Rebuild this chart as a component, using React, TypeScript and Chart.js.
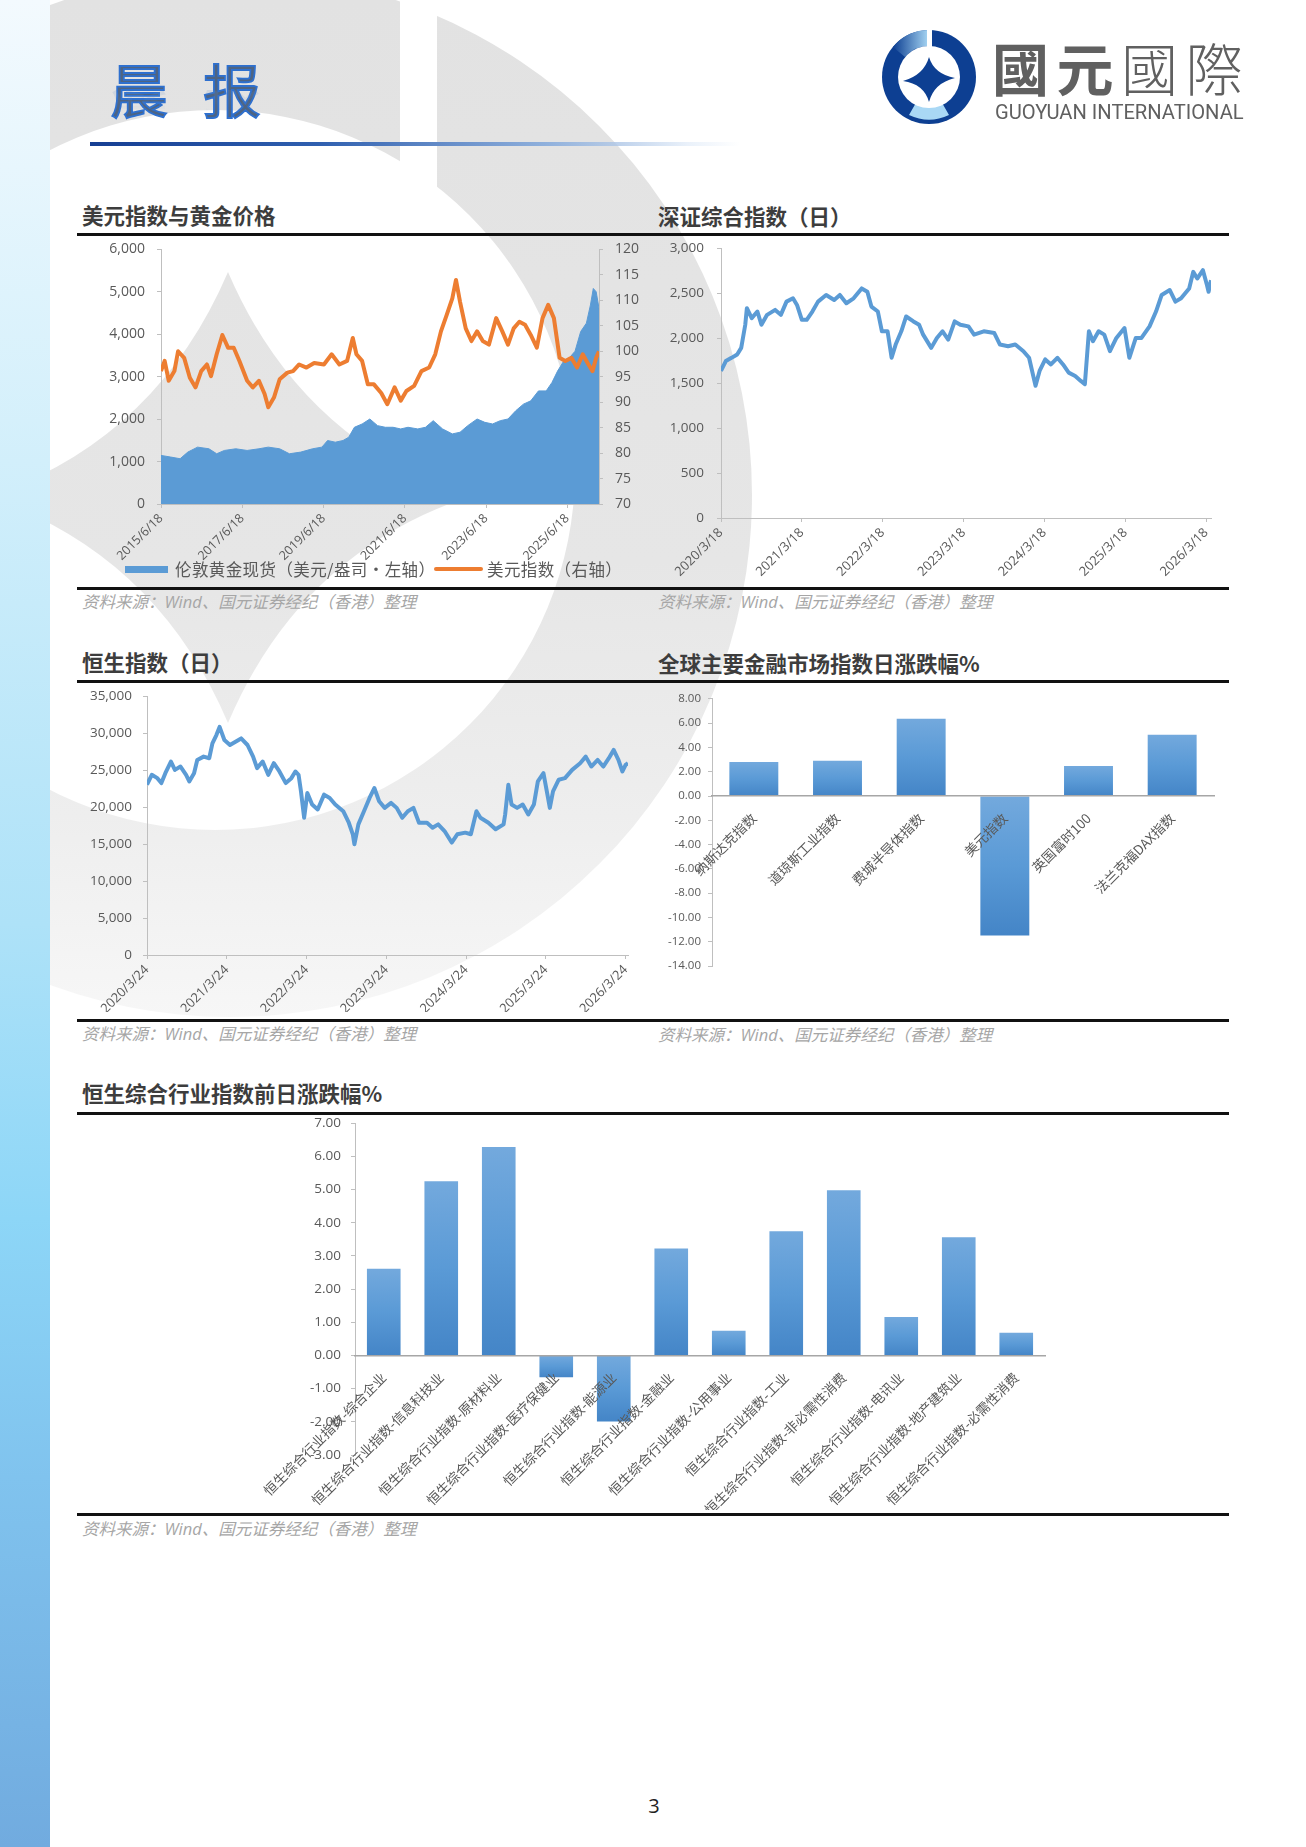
import React, { useEffect, useRef } from "react";
import { Chart, registerables } from "chart.js";
Chart.register(...registerables);

const NUM_FONT = '"Open Sans", "Noto Sans CJK SC", sans-serif';
const CJK_FONT = '"Noto Sans CJK SC", "Open Sans", sans-serif';
const AXIS = "#bfbfbf";
const TICK = "#595959";

// ---------- 美元指数与黄金价格 ----------
const goldTime = [2015.46,2015.70,2015.93,2016.12,2016.36,2016.64,2016.83,2017.02,2017.30,2017.58,2017.87,2018.10,2018.38,2018.62,2018.90,2019.19,2019.42,2019.56,2019.75,2019.94,2020.08,2020.22,2020.41,2020.60,2020.79,2020.98,2021.17,2021.36,2021.54,2021.78,2021.97,2022.16,2022.39,2022.63,2022.82,2023.01,2023.24,2023.43,2023.62,2023.81,2024.00,2024.19,2024.38,2024.56,2024.75,2024.94,2025.08,2025.22,2025.37,2025.51,2025.65,2025.79,2025.93,2026.03,2026.10,2026.17,2026.24];
const goldPrice = [1145,1106,1067,1223,1340,1301,1184,1262,1301,1262,1301,1340,1301,1184,1223,1301,1340,1496,1457,1496,1574,1808,1886,2003,1847,1808,1808,1769,1808,1769,1808,1964,1769,1652,1691,1847,2003,1925,1886,1964,2003,2197,2353,2431,2665,2665,2860,3132,3366,3444,3600,4065,4262,4691,5080,5002,4613];
const dxyTime = [2015.46,2015.55,2015.65,2015.79,2015.88,2016.03,2016.17,2016.31,2016.45,2016.59,2016.69,2016.83,2016.97,2017.11,2017.25,2017.39,2017.58,2017.72,2017.87,2018.01,2018.10,2018.24,2018.38,2018.57,2018.71,2018.86,2019.04,2019.23,2019.47,2019.66,2019.85,2020.04,2020.18,2020.27,2020.41,2020.55,2020.70,2020.88,2021.03,2021.21,2021.36,2021.50,2021.69,2021.87,2022.06,2022.21,2022.35,2022.49,2022.63,2022.72,2022.82,2022.96,2023.10,2023.24,2023.38,2023.53,2023.71,2023.86,2024.00,2024.14,2024.28,2024.42,2024.56,2024.71,2024.85,2024.99,2025.13,2025.27,2025.41,2025.56,2025.70,2025.84,2025.98,2026.08,2026.17,2026.24];
const dxyValue = [96.1,98.1,94.2,96.1,100.0,98.7,94.8,92.9,96.1,97.4,95.1,99.4,103.2,100.7,100.7,98.1,94.2,92.9,94.2,91.6,89.0,90.9,94.5,95.8,96.1,97.4,96.8,97.7,97.4,99.4,97.4,98.1,102.6,99.4,98.1,93.5,93.5,91.8,89.6,92.9,90.3,92.2,93.2,96.1,96.8,99.4,103.9,107.1,110.4,114.0,109.7,104.5,102.0,103.9,102.0,101.3,106.5,103.9,101.3,104.5,105.8,105.2,103.2,100.7,106.5,109.1,106.5,98.7,98.1,98.7,96.8,99.4,97.4,96.1,98.7,100.0];
const goldTickPos = [2015.46,2017.46,2019.46,2021.46,2023.46,2025.46];
const goldTickLabels = ["2015/6/18","2017/6/18","2019/6/18","2021/6/18","2023/6/18","2025/6/18"];

// ---------- 深证综合指数 ----------
const szTime = [2020.21,2020.27,2020.34,2020.41,2020.46,2020.51,2020.53,2020.59,2020.66,2020.71,2020.78,2020.88,2020.95,2021.02,2021.10,2021.15,2021.21,2021.27,2021.34,2021.41,2021.51,2021.61,2021.68,2021.76,2021.85,2021.95,2022.02,2022.07,2022.15,2022.20,2022.27,2022.32,2022.37,2022.44,2022.50,2022.59,2022.66,2022.71,2022.81,2022.88,2022.95,2023.02,2023.10,2023.17,2023.27,2023.34,2023.46,2023.59,2023.66,2023.76,2023.85,2023.95,2024.02,2024.10,2024.15,2024.22,2024.29,2024.37,2024.44,2024.51,2024.59,2024.66,2024.71,2024.76,2024.81,2024.88,2024.95,2025.02,2025.10,2025.20,2025.26,2025.34,2025.41,2025.51,2025.59,2025.66,2025.76,2025.83,2025.90,2026.00,2026.05,2026.10,2026.17,2026.22,2026.24,2026.27];
const szValue = [1634,1744,1780,1818,1891,2148,2332,2222,2295,2148,2258,2313,2258,2405,2442,2368,2203,2203,2295,2405,2479,2423,2479,2387,2442,2552,2515,2350,2295,2075,2075,1781,1928,2075,2240,2185,2148,2038,1891,2001,2075,1983,2185,2148,2130,2038,2075,2056,1928,1909,1928,1854,1781,1469,1634,1763,1707,1781,1707,1616,1579,1524,1487,2075,1965,2075,2038,1854,2001,2111,1781,2001,2001,2130,2295,2479,2534,2405,2442,2552,2736,2662,2754,2589,2515,2644];
const szTickPos = [2020.21,2021.21,2022.21,2023.21,2024.21,2025.21,2026.21];
const szTickLabels = ["2020/3/18","2021/3/18","2022/3/18","2023/3/18","2024/3/18","2025/3/18","2026/3/18"];

// ---------- 恒生指数 ----------
const hsiTime = [2020.23,2020.29,2020.36,2020.41,2020.46,2020.53,2020.58,2020.65,2020.72,2020.76,2020.82,2020.86,2020.94,2021.01,2021.05,2021.10,2021.14,2021.20,2021.27,2021.34,2021.41,2021.49,2021.56,2021.61,2021.68,2021.75,2021.82,2021.89,2021.97,2022.04,2022.09,2022.13,2022.16,2022.20,2022.24,2022.30,2022.37,2022.45,2022.52,2022.59,2022.69,2022.76,2022.81,2022.83,2022.88,2022.95,2023.02,2023.08,2023.14,2023.21,2023.29,2023.36,2023.43,2023.50,2023.57,2023.64,2023.74,2023.81,2023.88,2023.96,2024.05,2024.12,2024.22,2024.29,2024.36,2024.41,2024.51,2024.60,2024.70,2024.72,2024.76,2024.80,2024.87,2024.94,2025.01,2025.08,2025.13,2025.20,2025.25,2025.28,2025.32,2025.39,2025.47,2025.56,2025.66,2025.73,2025.80,2025.88,2025.95,2026.02,2026.08,2026.14,2026.19,2026.23,2026.26];
const hsiValue = [23020,24360,23910,23240,24580,26150,25030,25480,24360,23470,24580,26370,26820,26600,28610,29730,30840,29060,28390,28830,29280,28390,26820,25260,26150,24360,25930,24810,23240,23910,24810,24360,22130,18550,21900,20340,19670,21680,21230,20340,19440,17880,16320,14970,17660,19440,21230,22570,20790,19890,20560,19890,18550,19440,19890,17880,17880,17210,17660,16760,15200,16320,16540,16320,19440,18550,17880,16990,17660,19000,23020,20340,19890,20340,19000,20340,23470,24580,21680,19890,22130,23690,23910,25030,25930,26820,25480,26370,25480,26600,27720,26370,24810,25700,25930];
const hsiTickPos = [2020.23,2021.23,2022.23,2023.23,2024.23,2025.23,2026.23];
const hsiTickLabels = ["2020/3/24","2021/3/24","2022/3/24","2023/3/24","2024/3/24","2025/3/24","2026/3/24"];

// ---------- 全球主要金融市场指数日涨跌幅% ----------
const globalNames = ["纳斯达克指数","道琼斯工业指数","费城半导体指数","美元指数","英国富时100","法兰克福DAX指数"];
const globalChange = [2.81, 2.90, 6.37, -11.48, 2.48, 5.05];

// ---------- 恒生综合行业指数前日涨跌幅% ----------
const sectorNames = ["恒生综合行业指数-综合企业","恒生综合行业指数-信息科技业","恒生综合行业指数-原材料业","恒生综合行业指数-医疗保健业","恒生综合行业指数-能源业","恒生综合行业指数-金融业","恒生综合行业指数-公用事业","恒生综合行业指数-工业","恒生综合行业指数-非必需性消费","恒生综合行业指数-电讯业","恒生综合行业指数-地产建筑业","恒生综合行业指数-必需性消费"];
const sectorChange = [2.61, 5.25, 6.28, -0.66, -1.99, 3.22, 0.74, 3.74, 4.98, 1.16, 3.56, 0.68];

const SOURCE = "资料来源：Wind、国元证券经纪（香港）整理";

const xy = (xs: number[], ys: number[]) => xs.map((x, i) => ({ x, y: ys[i] }));
const fmtThousands = (v: any) => Number(v).toLocaleString("en-US");
const fmt2 = (v: any) => Number(v).toFixed(2);

function yScale(o: { min: number; max: number; step: number; width: number; size: number; pad: number; fmt: (v: any) => string; position?: string; }) {
  return {
    type: "linear",
    position: o.position || "left",
    min: o.min,
    max: o.max,
    ticks: { stepSize: o.step, font: { family: NUM_FONT, size: o.size }, color: TICK, padding: o.pad, callback: o.fmt },
    grid: { display: true, drawOnChartArea: false, drawTicks: true, tickLength: 4, color: AXIS },
    border: { display: true, color: AXIS },
    afterFit: (s: any) => { s.width = o.width; },
  };
}

function timeX(o: { min: number; max: number; pos: number[]; labels: string[]; height: number; size: number }) {
  return {
    type: "linear",
    min: o.min,
    max: o.max,
    afterBuildTicks: (s: any) => { s.ticks = o.pos.map((v) => ({ value: v })); },
    ticks: {
      callback: (_v: any, i: number) => o.labels[i],
      minRotation: 45, maxRotation: 45, autoSkip: false,
      font: { family: NUM_FONT, size: o.size }, color: TICK, padding: 3,
    },
    grid: { display: true, drawOnChartArea: false, drawTicks: true, tickLength: 4, color: AXIS },
    border: { display: true, color: AXIS },
    afterFit: (s: any) => { s.height = o.height; },
  };
}

function barGradient(ctx: any) {
  const chart = ctx.chart;
  const y = chart.scales && chart.scales.y;
  if (ctx.type !== "data" || !y) return "#5b9bd5";
  const v = ctx.raw as number;
  const p0 = y.getPixelForValue(0);
  const p1 = y.getPixelForValue(v);
  const top = Math.min(p0, p1), bot = Math.max(p0, p1);
  if (!isFinite(top) || !isFinite(bot) || bot - top < 1) return "#5b9bd5";
  const g = chart.ctx.createLinearGradient(0, top, 0, bot);
  g.addColorStop(0, "#73a9dd");
  g.addColorStop(0.5, "#5a9ad6");
  g.addColorStop(1, "#4485c7");
  return g;
}

const baseOpts = (padding: any) => ({
  responsive: true,
  maintainAspectRatio: false,
  animation: false,
  layout: { padding },
  plugins: { legend: { display: false }, tooltip: { enabled: false } },
});

function goldConfig(): any {
  return {
    type: "line",
    data: {
      datasets: [
        { label: "美元指数（右轴）", data: xy(dxyTime, dxyValue), yAxisID: "y1", borderColor: "#ed7d31", borderWidth: 4, pointRadius: 0, fill: false, order: 0, borderJoinStyle: "round" },
        { label: "伦敦黄金现货（美元/盎司，左轴）", data: xy(goldTime, goldPrice), yAxisID: "y", borderColor: "#5b9bd5", backgroundColor: "#5b9bd5", borderWidth: 1, pointRadius: 0, fill: "origin", order: 1 },
      ],
    },
    options: {
      ...baseOpts({ top: 0, left: 0, right: 0, bottom: 0 }),
      scales: {
        x: timeX({ min: 2015.46, max: 2026.24, pos: goldTickPos, labels: goldTickLabels, height: 61, size: 12.5 }),
        y: yScale({ min: 0, max: 6000, step: 1000, width: 84, size: 14, pad: 12, fmt: fmtThousands }),
        y1: yScale({ min: 70, max: 120, step: 5, width: 61, size: 14, pad: 12, fmt: (v) => String(v), position: "right" }),
      },
    },
  };
}

function szConfig(): any {
  return {
    type: "line",
    data: { datasets: [{ label: "深证综合指数", data: xy(szTime, szValue), borderColor: "#5b9bd5", borderWidth: 4, pointRadius: 0, fill: false, borderJoinStyle: "round" }] },
    options: {
      ...baseOpts({ top: 0, left: 0, right: 18, bottom: 0 }),
      scales: {
        x: timeX({ min: 2020.21, max: 2026.27, pos: szTickPos, labels: szTickLabels, height: 62, size: 13 }),
        y: yScale({ min: 0, max: 3000, step: 500, width: 66, size: 13.5, pad: 13, fmt: fmtThousands }),
      },
    },
  };
}

function hsiConfig(): any {
  return {
    type: "line",
    data: { datasets: [{ label: "恒生指数", data: xy(hsiTime, hsiValue), borderColor: "#5b9bd5", borderWidth: 4, pointRadius: 0, fill: false, borderJoinStyle: "round" }] },
    options: {
      ...baseOpts({ top: 0, left: 0, right: 22, bottom: 0 }),
      scales: {
        x: timeX({ min: 2020.23, max: 2026.26, pos: hsiTickPos, labels: hsiTickLabels, height: 57, size: 13 }),
        y: yScale({ min: 0, max: 35000, step: 5000, width: 70, size: 13.5, pad: 11, fmt: fmtThousands }),
      },
    },
  };
}

function barConfig(names: string[], values: number[], o: { min: number; max: number; step: number; width: number; ySize: number; yPad: number; padding: any; barPct: number }): any {
  return {
    type: "bar",
    data: { labels: names, datasets: [{ label: "涨跌幅", data: values, backgroundColor: barGradient, borderWidth: 0, barPercentage: o.barPct, categoryPercentage: 1.0 }] },
    options: {
      ...baseOpts(o.padding),
      scales: {
        x: {
          type: "category",
          position: { y: 0 },
          ticks: { z: 1, font: { family: CJK_FONT, size: 13.5 }, color: TICK, minRotation: 45, maxRotation: 45, autoSkip: false, padding: 6 },
          grid: { display: false },
          border: { display: true, color: "#a6a6a6", width: 1.5, z: 1 },
        },
        y: yScale({ min: o.min, max: o.max, step: o.step, width: o.width, size: o.ySize, pad: o.yPad, fmt: fmt2 }),
      },
    },
  };
}

function ChartBox(props: { left: number; top: number; width: number; height: number; config: () => any }) {
  const ref = useRef<HTMLCanvasElement | null>(null);
  useEffect(() => {
    const chart = new Chart(ref.current as HTMLCanvasElement, props.config());
    return () => chart.destroy();
  }, []);
  return (
    <div style={{ position: "absolute", left: props.left, top: props.top, width: props.width, height: props.height }}>
      <canvas ref={ref} />
    </div>
  );
}

const abs = (s: any): any => ({ position: "absolute", whiteSpace: "nowrap", ...s });

function Title(p: { x: number; cy: number; text: string }) {
  return <div style={abs({ left: p.x, top: p.cy - 14, height: 28, lineHeight: "28px", fontSize: 21.5, fontFamily: CJK_FONT, fontWeight: 700, color: "#3d3d3d" })}>{p.text}</div>;
}
function Rule(p: { y: number }) {
  return <div style={abs({ left: 77, top: p.y, width: 1152, height: 2.5, background: "#111" })} />;
}
function Source(p: { x: number; cy: number }) {
  return <div style={abs({ left: p.x, top: p.cy - 12, height: 24, lineHeight: "24px", fontSize: 16.5, fontFamily: NUM_FONT, fontStyle: "italic", color: "#a6a6a6" })}>{SOURCE}</div>;
}

function Watermark() {
  return (
    <svg width={1306} height={1847} style={{ position: "absolute", left: 0, top: 0 }}>
      <defs>
        <linearGradient id="wmg" gradientUnits="userSpaceOnUse" x1="0" y1="0" x2="0" y2="1020">
          <stop offset="0" stopColor="#e2e2e2" />
          <stop offset="0.55" stopColor="#e6e6e6" />
          <stop offset="0.8" stopColor="#eeeeee" />
          <stop offset="1" stopColor="#f7f7f7" />
        </linearGradient>
      </defs>
      <path fillRule="evenodd" fill="url(#wmg)" d="M -292 495 A 522 522 0 1 0 752 495 A 522 522 0 1 0 -292 495 Z M -145 470 A 360 360 0 1 0 575 470 A 360 360 0 1 0 -145 470 Z" />
      <rect x={400} y={0} width={37} height={200} fill="#ffffff" />
      <path fill="url(#wmg)" d="M228 272 Q300 440 468 497 Q300 554 228 723 Q156 554 -12 497 Q156 440 228 272 Z" />
    </svg>
  );
}

function Logo() {
  return (
    <svg width={100} height={100} viewBox="0 0 100 100" style={{ position: "absolute", left: 879, top: 27 }}>
      <defs>
        <linearGradient id="lgA" x1="0" y1="0" x2="1" y2="0">
          <stop offset="0" stopColor="#0d3f92" />
          <stop offset="1" stopColor="#a9d8f5" />
        </linearGradient>
      </defs>
      <circle cx={50} cy={50} r={47} fill="#0d3f92" />
      <path d="M 50 3 A 47 47 0 0 0 14 20 L 26 30 A 31 31 0 0 1 50 19 Z" fill="url(#lgA)" />
      <path d="M 30 88 A 47 47 0 0 0 70 88 L 62 74 A 31 31 0 0 1 38 74 Z" fill="#a9d8f5" />
      <circle cx={50} cy={50} r={31} fill="#ffffff" />
      <rect x={48} y={0} width={5} height={22} fill="#ffffff" />
      <path d="M50 30 Q55 47 76 51 Q55 56 50 75 Q45 57 24 54 Q45 48 50 30 Z" fill="#0d3f92" />
    </svg>
  );
}

const headStyle = { left: 110, top: 53, fontSize: 58, lineHeight: "70px", fontWeight: 400, fontFamily: CJK_FONT, letterSpacing: 11 };

export default function App() {
  useEffect(() => { document.body.style.margin = "0"; }, []);
  return (
    <div style={{ position: "relative", width: 1306, height: 1847, overflow: "hidden", background: "#fff", fontFamily: CJK_FONT }}>
      <style>{"body{margin:0}"}</style>
      <Watermark />
      <div style={abs({ left: 0, top: 0, width: 50, height: 1847, background: "linear-gradient(to bottom, #f3fafe 0%, #d2effb 25%, #aee2f8 50%, #8dd6f7 66%, #80c3ee 80%, #71abdf 100%)" })} />

      {/* header */}
      <div style={abs({ ...headStyle, color: "#4e6482", WebkitTextStroke: "1.8px #2e70cf" })}>晨 报</div>
      <div style={abs({ ...headStyle, top: 53 + 102, color: "#6a8fc4", transform: "scaleY(-1)", transformOrigin: "50% 0", opacity: 0.22, WebkitMaskImage: "linear-gradient(to top, rgba(0,0,0,1) 0%, rgba(0,0,0,0) 40%)", maskImage: "linear-gradient(to top, rgba(0,0,0,1) 0%, rgba(0,0,0,0) 40%)" })}>晨 报</div>
      <div style={abs({ left: 90, top: 142, width: 650, height: 3.5, background: "linear-gradient(to right, #163f93 0%, #2f5faf 35%, #8fb0dc 70%, rgba(220,232,247,0.6) 92%, rgba(255,255,255,0) 100%)" })} />

      <Logo />
      <div style={abs({ left: 992, top: 31, fontSize: 57, lineHeight: "70px", color: "#606060", letterSpacing: 7.5, fontFamily: CJK_FONT })}>
        <span style={{ fontWeight: 700 }}>國元</span><span style={{ fontWeight: 300 }}>國際</span>
      </div>
      <div style={abs({ left: 995, top: 100, fontSize: 21, lineHeight: "24px", color: "#606060", fontFamily: '"Roboto", "Open Sans", sans-serif', transform: "scaleX(0.96)", transformOrigin: "0 0" })}>GUOYUAN INTERNATIONAL</div>

      {/* chart 1 & 2 */}
      <Title x={82} cy={215} text="美元指数与黄金价格" />
      <Title x={658} cy={216} text="深证综合指数（日）" />
      <Rule y={233} />
      <ChartBox left={77} top={229} width={583} height={336} config={goldConfig} />
      <ChartBox left={655} top={227} width={574} height={353} config={szConfig} />
      {/* legend */}
      <div style={abs({ left: 125, top: 566, width: 43, height: 7, background: "#5b9bd5" })} />
      <div style={abs({ left: 175, top: 558, lineHeight: "22px", fontSize: 16.5, letterSpacing: 0.4, color: TICK, fontFamily: CJK_FONT })}>伦敦黄金现货（美元/盎司・左轴）</div>
      <div style={abs({ left: 434, top: 567, width: 49, height: 4, borderRadius: 2, background: "#ed7d31" })} />
      <div style={abs({ left: 487, top: 558, lineHeight: "22px", fontSize: 16.5, letterSpacing: 0.4, color: TICK, fontFamily: CJK_FONT })}>美元指数（右轴）</div>
      <Rule y={587} />
      <Source x={82} cy={602} />
      <Source x={658} cy={602} />

      {/* chart 3 & 4 */}
      <Title x={82} cy={662} text="恒生指数（日）" />
      <Title x={658} cy={663} text="全球主要金融市场指数日涨跌幅%" />
      <Rule y={680} />
      <ChartBox left={77} top={677} width={573} height={335} config={hsiConfig} />
      <ChartBox left={655} top={685} width={574} height={305}
        config={() => barConfig(globalNames, globalChange, { min: -14, max: 8, step: 2, width: 57, ySize: 11.5, yPad: 7, padding: { top: 0, left: 0, right: 15, bottom: 24 }, barPct: 0.585 })} />
      <Rule y={1019} />
      <Source x={82} cy={1034} />
      <Source x={658} cy={1035} />

      {/* chart 5 */}
      <Title x={82} cy={1093} text="恒生综合行业指数前日涨跌幅%" />
      <Rule y={1112} />
      <ChartBox left={77} top={1105} width={1152} height={405}
        config={() => barConfig(sectorNames, sectorChange, { min: -3, max: 7, step: 1, width: 278, ySize: 13.5, yPad: 10, padding: { top: 0, left: 0, right: 184, bottom: 55 }, barPct: 0.585 })} />
      <Rule y={1513} />
      <Source x={82} cy={1529} />

      <div style={abs({ left: 644, top: 1792, width: 20, textAlign: "center", fontSize: 20, lineHeight: "28px", color: "#222", fontFamily: NUM_FONT })}>3</div>
    </div>
  );
}
